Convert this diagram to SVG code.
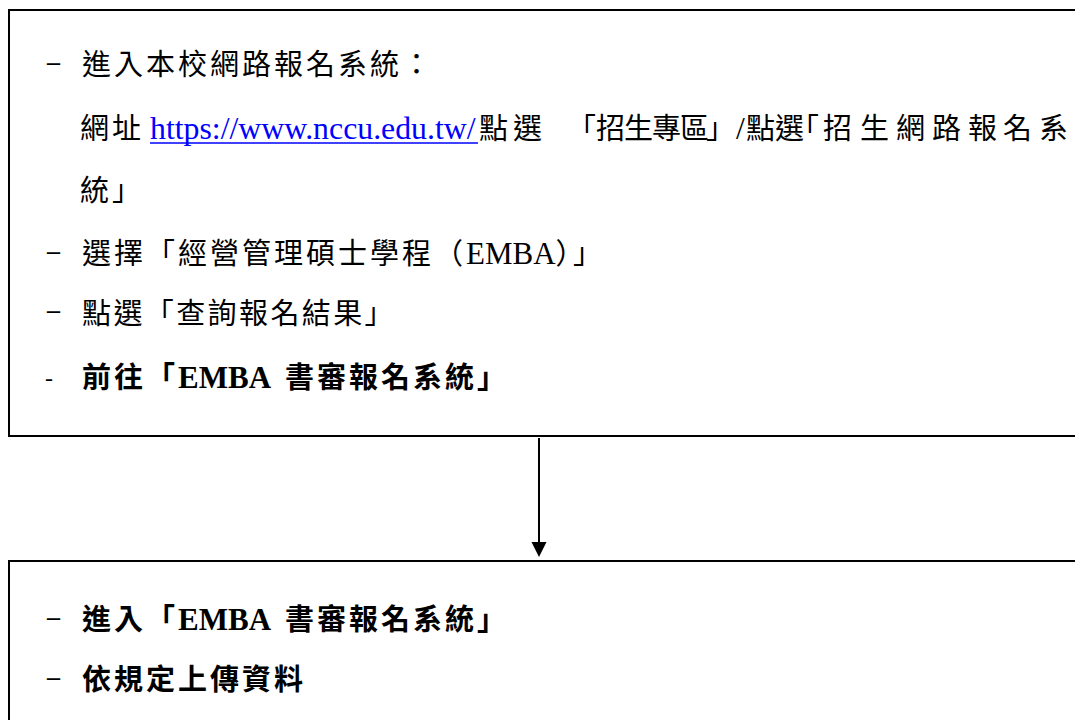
<svg xmlns="http://www.w3.org/2000/svg" width="1075" height="720" viewBox="0 0 1075 720">
<style>
.box{fill:#fff;stroke:#000;stroke-width:2}
text{font-family:"Liberation Serif","Noto Sans CJK TC",serif;fill:#000}
.c{font-family:"Noto Sans CJK TC","Liberation Serif",sans-serif;font-size:29px;letter-spacing:3px}
.l{font-family:"Liberation Serif",serif;font-size:31px;letter-spacing:0}
.d{font-family:"Liberation Serif",serif;font-size:26px;font-weight:700}
.h{font-family:"Liberation Serif",serif;font-size:24px}
.b{font-weight:700}
.link{fill:#0000ff;font-size:31.8px}
.conn{stroke:#000;stroke-width:2;fill:none}
</style>
<rect width="1075" height="720" fill="#fff"/>
<g id="node-top">
<rect class="box" x="9" y="10" width="1090" height="426"/>
<text x="47" y="70" class="d">–</text>
<text x="82" y="75" class="c">進入本校網路報名系統：</text>
<text y="139"><tspan x="80" class="c">網址</tspan><tspan x="150" class="l link">https://www.nccu.edu.tw/</tspan><tspan class="c" x="479 513">點選</tspan><tspan class="c" x="567 596 624 652 680 706">「招生專區」</tspan><tspan class="l" x="736" style="font-size:31.8px">/</tspan><tspan class="c" x="746 775 790 823 860 896 932 968 1003 1039">點選「招生網路報名系</tspan></text>
<line x1="150" y1="143" x2="478" y2="143" stroke="#0000ff" stroke-width="1.5"/>
<text y="201"><tspan class="c" x="80 112">統」</tspan></text>
<text x="47" y="259" class="d">–</text>
<text x="82" y="264"><tspan class="c">選擇「經營管理碩士學程（</tspan><tspan class="l">EMBA</tspan><tspan class="c">）」</tspan></text>
<text x="47" y="318" class="d">–</text>
<text x="82" y="324" class="c" style="letter-spacing:2.4px">點選「查詢報名結果」</text>
<text x="45" y="386" class="h">-</text>
<text x="82" y="388" class="b"><tspan class="c b">前往「</tspan><tspan class="l b">EMBA</tspan><tspan class="c b" dx="14">書審報名系統」</tspan></text>
</g>
<g id="connectors">
<line class="conn" x1="539" y1="438" x2="539" y2="544"/>
<polygon points="531.5,542 546.5,542 539,557" fill="#000"/>
</g>
<g id="node-bottom">
<rect class="box" x="9" y="561" width="1090" height="200"/>
<text x="47" y="625" class="d">–</text>
<text x="82" y="630" class="b"><tspan class="c b">進入「</tspan><tspan class="l b">EMBA</tspan><tspan class="c b" dx="14">書審報名系統」</tspan></text>
<text x="47" y="685" class="d">–</text>
<text x="82" y="690" class="c b">依規定上傳資料</text>
</g>
</svg>
